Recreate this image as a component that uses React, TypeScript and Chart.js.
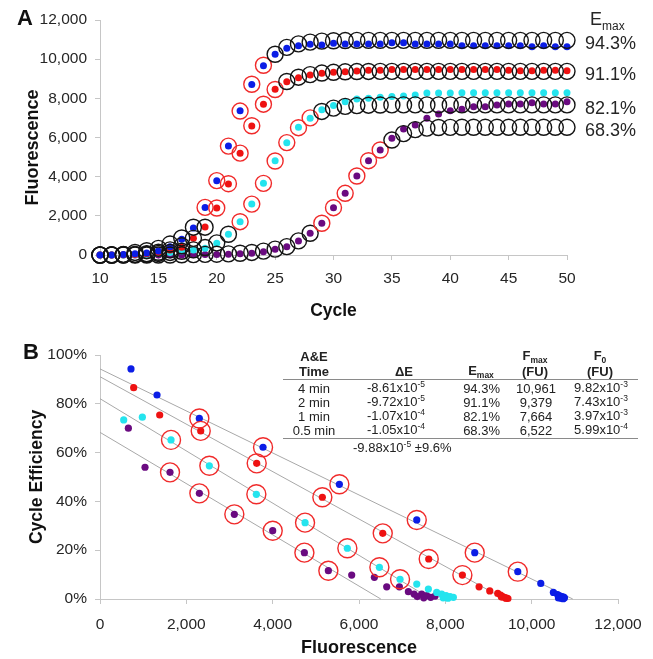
import React, { useEffect, useRef } from 'react';
import { Chart, registerables } from 'chart.js';

Chart.register(...registerables);

const FONT = "Arial, 'Liberation Sans', Helvetica, sans-serif";

// ---------- Panel A data (fluorescence per cycle) ----------
const cycles = [10, 11, 12, 13, 14, 15, 16, 17, 18, 19, 20, 21, 22, 23, 24, 25, 26, 27, 28, 29, 30,
  31, 32, 33, 34, 35, 36, 37, 38, 39, 40, 41, 42, 43, 44, 45, 46, 47, 48, 49, 50];

const blueData = [0, 0, 20, 60, 100, 200, 420, 800, 1380, 2430, 3790, 5560, 7370, 8710, 9670, 10250, 10560, 10690, 10760, 10720, 10810,
  10770, 10770, 10770, 10770, 10840, 10840, 10770, 10770, 10770, 10770, 10690, 10690, 10690, 10690, 10690, 10690, 10640, 10690, 10640, 10640];
const blueModel = [0, 10, 30, 130, 220, 340, 560, 870, 1420, 2430, 3800, 5560, 7350, 8720, 9690, 10250, 10600, 10780, 10870, 10920, 10940,
  10950, 10961, 10961, 10961, 10961, 10961, 10961, 10961, 10961, 10961, 10961, 10961, 10961, 10961, 10961, 10961, 10961, 10961, 10961, 10961];

const redData = [0, 0, 10, 30, 60, 130, 250, 400, 850, 1430, 2400, 3630, 5190, 6590, 7700, 8460, 8850, 9050, 9190, 9280, 9330,
  9360, 9400, 9440, 9440, 9470, 9470, 9470, 9470, 9470, 9470, 9470, 9470, 9470, 9470, 9440, 9410, 9410, 9440, 9440, 9410];
const redModel = [0, 0, 10, 30, 70, 140, 260, 470, 850, 1420, 2400, 3640, 5200, 6600, 7700, 8450, 8860, 9080, 9210, 9290, 9330,
  9355, 9368, 9374, 9379, 9379, 9379, 9379, 9379, 9379, 9379, 9379, 9379, 9379, 9379, 9379, 9379, 9379, 9379, 9379, 9379];

const cyanData = [0, 0, 0, 10, 30, 80, 130, 200, 260, 340, 600, 1060, 1700, 2600, 3660, 4815, 5730, 6520, 6980, 7420, 7630,
  7830, 7970, 8000, 8050, 8090, 8120, 8170, 8270, 8270, 8270, 8290, 8290, 8290, 8290, 8290, 8290, 8290, 8290, 8290, 8290];
const cyanModel = [0, 0, 10, 20, 40, 80, 130, 190, 260, 380, 620, 1060, 1700, 2600, 3660, 4800, 5740, 6500, 7000, 7330, 7500,
  7590, 7630, 7650, 7658, 7664, 7664, 7664, 7664, 7664, 7664, 7664, 7664, 7664, 7664, 7664, 7664, 7664, 7664, 7664, 7664];

const purpleData = [0, 0, 0, 0, 0, 0, 0, 0, 10, 20, 30, 40, 60, 90, 170, 300, 424, 715, 1108, 1619, 2415,
  3150, 4034, 4815, 5361, 5960, 6430, 6640, 6980, 7200, 7370, 7440, 7570, 7570, 7660, 7710, 7710, 7780, 7710, 7710, 7830];
const purpleModel = [0, 0, 0, 0, 0, 0, 0, 10, 20, 30, 40, 60, 90, 130, 200, 300, 430, 720, 1110, 1620, 2415,
  3150, 4034, 4815, 5361, 5870, 6200, 6400, 6480, 6510, 6518, 6522, 6522, 6522, 6522, 6522, 6522, 6522, 6522, 6522, 6522];

// cycles whose model circle is drawn red (exponential phase)
const blueExpCycles = [19, 24];
const redExpCycles = [20, 25];
const cyanExpCycles = [22, 28];
const purpleExpCycles = [29, 34];

// ---------- Panel B data (cycle efficiency vs fluorescence) ----------
const blueF = [718, 1321, 2301, 3777, 5545, 7338, 8681, 9678, 10211, 10503, 10600, 10650, 10700, 10740, 10760, 10620, 10690, 10730];
const blueE = [94.3, 83.6, 74.0, 62.2, 47.0, 32.4, 19.0, 11.2, 6.4, 2.7, 1.8, 1.3, 1.0, 0.8, 0.5, 0.4, 0.2, 0.1];
const blueCircled = [2, 3, 4, 5, 6, 7];

const redF = [780, 1383, 2333, 3630, 5151, 6550, 7615, 8395, 8782, 9029, 9214, 9280, 9330, 9380, 9420, 9450, 9300, 9400];
const redE = [86.6, 75.4, 68.9, 55.6, 41.7, 26.9, 16.4, 9.8, 5.0, 3.3, 2.3, 1.6, 1.0, 0.6, 0.4, 0.2, 0.8, 0.3];
const redCircled = [2, 3, 4, 5, 6, 7];

const cyanF = [549, 981, 1645, 2533, 3622, 4750, 5730, 6472, 6951, 7338, 7607, 7800, 7915, 8017, 8109, 8186, 7950, 8060];
const cyanE = [73.4, 74.5, 65.2, 54.6, 42.9, 31.3, 20.8, 13.0, 8.1, 6.1, 4.1, 2.7, 2.0, 1.4, 1.0, 0.7, 0.5, 0.3];
const cyanCircled = [2, 3, 4, 5, 6, 7, 8];

const purpleF = [657, 1043, 1622, 2302, 3112, 4001, 4735, 5290, 5831, 6356, 6642, 6936, 7144, 7276, 7452, 7568, 7661, 7762, 7350, 7500];
const purpleE = [70.0, 54.0, 51.9, 43.3, 34.7, 28.0, 19.0, 11.6, 9.8, 8.9, 5.0, 5.0, 3.0, 2.0, 2.0, 1.4, 0.7, 1.2, 1.0, 0.5];
const purpleCircled = [2, 3, 4, 5, 6, 7];

// ---------- Table ----------
const aeTimes = ['4 min', '2 min', '1 min', '0.5 min'];
const dEMant = ['-8.61', '-9.72', '-1.07', '-1.05'];
const dEExp = ['-5', '-5', '-4', '-4'];
const eMaxPct = [94.3, 91.1, 82.1, 68.3];
const fMax = [10961, 9379, 7664, 6522];
const f0Mant = ['9.82', '7.43', '3.97', '5.99'];
const f0Exp = ['-3', '-3', '-3', '-4'];
const dEMeanMant = '-9.88';
const dEMeanExp = '-5';
const dEMeanSpread = '±9.6%';

const xTicksA = [10, 15, 20, 25, 30, 35, 40, 45, 50];

// ---------- Styles ----------
const BLUE = '#0b1de6';
const RED = '#ee1212';
const CYAN = '#24e4ee';
const PURPLE = '#6a0a80';
const RING_RED = '#f02a2a';
const RING_BLACK = '#141414';
const AXIS = '#c6c6c6';
const TXT = '#262626';
const FIT_LINE = '#a8a8a8';

const fmt = (v: number) => v.toLocaleString('en-US');

function App() {
  const aRef = useRef<HTMLCanvasElement>(null);
  const bRef = useRef<HTMLCanvasElement>(null);

  useEffect(() => {
    Chart.defaults.font.family = FONT;

    const pts = (vals: number[]) => vals.map((v, i) => ({ x: cycles[i], y: v }));
    const ringColors = (r: number[]) => cycles.map((c) => (c >= r[0] && c <= r[1] ? RING_RED : RING_BLACK));

    const seriesA = [
      { data: blueData, model: blueModel, exp: blueExpCycles, color: BLUE },
      { data: redData, model: redModel, exp: redExpCycles, color: RED },
      { data: cyanData, model: cyanModel, exp: cyanExpCycles, color: CYAN },
      { data: purpleData, model: purpleModel, exp: purpleExpCycles, color: PURPLE },
    ];

    const dsA: any[] = [];
    seriesA.forEach((s) => {
      dsA.push({
        type: 'scatter', data: pts(s.data), pointRadius: 3.5, pointHoverRadius: 3.5,
        pointBackgroundColor: s.color, pointBorderWidth: 0, showLine: false, clip: false, order: 2,
      });
      dsA.push({
        type: 'scatter', data: pts(s.model), pointRadius: 8, pointHoverRadius: 8,
        pointBackgroundColor: 'rgba(0,0,0,0)', pointBorderColor: ringColors(s.exp), pointBorderWidth: 1.4,
        showLine: false, clip: false, order: 1,
      });
    });

    const annotA = {
      id: 'annotA',
      afterDraw(chart: any) {
        const ctx = chart.ctx;
        const y = chart.scales.y;
        ctx.save();
        ctx.fillStyle = '#111';
        ctx.font = `bold 22px ${FONT}`;
        ctx.textAlign = 'center';
        ctx.textBaseline = 'middle';
        ctx.fillText('A', 25, 19);
        ctx.fillStyle = TXT;
        ctx.textAlign = 'left';
        ctx.font = `18px ${FONT}`;
        ctx.fillText('E', 590, 20);
        ctx.font = `12px ${FONT}`;
        ctx.fillText('max', 602, 27);
        ctx.font = `18px ${FONT}`;
        fMax.forEach((f, i) => {
          ctx.fillText(`${eMaxPct[i].toFixed(1)}%`, 585, y.getPixelForValue(f) + 4);
        });
        ctx.restore();
      },
    };

    const chartA = new Chart(aRef.current as HTMLCanvasElement, {
      type: 'scatter',
      data: { datasets: dsA },
      options: {
        animation: false,
        responsive: false,
        maintainAspectRatio: false,
        events: [],
        layout: { padding: { left: 0, right: 86, top: 20, bottom: 0 } },
        plugins: { legend: { display: false }, tooltip: { enabled: false } },
        scales: {
          x: {
            type: 'linear', min: 10, max: 50,
            afterFit: (s: any) => { s.height = 75; },
            afterBuildTicks: (s: any) => { s.ticks = xTicksA.map((v) => ({ value: v })); },
            ticks: { font: { size: 15.5 }, color: TXT, padding: 9, maxRotation: 0 },
            grid: { display: true, drawOnChartArea: false, drawTicks: true, tickLength: 5, color: AXIS },
            border: { display: true, color: AXIS, width: 1 },
            title: { display: true, text: 'Cycle', font: { size: 17.5, weight: 'bold' }, color: '#111', padding: { top: 0, bottom: 8 } },
          },
          y: {
            type: 'linear', min: 0, max: 12000,
            afterFit: (s: any) => { s.width = 100; },
            ticks: { stepSize: 2000, font: { size: 15.5 }, color: TXT, padding: 8, callback: (v: any) => fmt(Number(v)) },
            grid: { display: true, drawOnChartArea: false, drawTicks: true, tickLength: 5, color: AXIS },
            border: { display: true, color: AXIS, width: 1 },
            title: { display: true, text: 'Fluorescence    ', font: { size: 18, weight: 'bold' }, color: '#111', padding: { top: 22, bottom: 0 } },
          },
        },
      } as any,
      plugins: [annotA],
    });

    // ---------- Panel B ----------
    const seriesB = [
      { f: blueF, e: blueE, c: blueCircled, color: BLUE },
      { f: redF, e: redE, c: redCircled, color: RED },
      { f: cyanF, e: cyanE, c: cyanCircled, color: CYAN },
      { f: purpleF, e: purpleE, c: purpleCircled, color: PURPLE },
    ];
    const dsB: any[] = [];
    eMaxPct.forEach((em, i) => {
      const dE = Number(dEMant[i]) * Math.pow(10, Number(dEExp[i])) * 100; // % per FU
      dsB.push({
        type: 'scatter', data: [{ x: 0, y: em }, { x: em / -dE, y: 0 }], showLine: true,
        borderColor: FIT_LINE, borderWidth: 1, pointRadius: 0, clip: false, order: 3,
      });
    });
    seriesB.forEach((s) => {
      dsB.push({
        type: 'scatter', data: s.f.map((f, i) => ({ x: f, y: s.e[i] })), pointRadius: 3.6, pointHoverRadius: 3.6,
        pointBackgroundColor: s.color, pointBorderWidth: 0, clip: false, order: 2,
      });
      dsB.push({
        type: 'scatter', data: s.c.map((i) => ({ x: s.f[i], y: s.e[i] })), pointRadius: 9.5, pointHoverRadius: 9.5,
        pointBackgroundColor: 'rgba(0,0,0,0)', pointBorderColor: RING_RED, pointBorderWidth: 1.4, clip: false, order: 1,
      });
    });

    const annotB = {
      id: 'annotB',
      afterDraw(chart: any) {
        const ctx = chart.ctx;
        ctx.save();
        ctx.fillStyle = '#111';
        ctx.font = `bold 22px ${FONT}`;
        ctx.textAlign = 'center';
        ctx.textBaseline = 'middle';
        ctx.fillText('B', 31, 23);
        ctx.restore();
      },
    };

    const chartB = new Chart(bRef.current as HTMLCanvasElement, {
      type: 'scatter',
      data: { datasets: dsB },
      options: {
        animation: false,
        responsive: false,
        maintainAspectRatio: false,
        events: [],
        layout: { padding: { left: 0, right: 35, top: 25, bottom: 0 } },
        plugins: { legend: { display: false }, tooltip: { enabled: false } },
        scales: {
          x: {
            type: 'linear', min: 0, max: 12000,
            afterFit: (s: any) => { s.height = 60; },
            ticks: { stepSize: 2000, font: { size: 15.5 }, color: TXT, padding: 11, maxRotation: 0, callback: (v: any) => fmt(Number(v)) },
            grid: { display: true, drawOnChartArea: false, drawTicks: true, tickLength: 5, color: AXIS },
            border: { display: true, color: AXIS, width: 1 },
            title: { display: true, text: 'Fluorescence', font: { size: 18, weight: 'bold' }, color: '#111', padding: { top: 0, bottom: 0 } },
          },
          y: {
            type: 'linear', min: 0, max: 100,
            afterFit: (s: any) => { s.width = 100; },
            ticks: { stepSize: 20, font: { size: 15.5 }, color: TXT, padding: 8, callback: (v: any) => `${v}%` },
            grid: { display: true, drawOnChartArea: false, drawTicks: true, tickLength: 5, color: AXIS },
            border: { display: true, color: AXIS, width: 1 },
            title: { display: true, text: 'Cycle Efficiency', font: { size: 17.5, weight: 'bold' }, color: '#111', padding: { top: 27, bottom: 0 } },
          },
        },
      } as any,
      plugins: [annotB],
    });

    return () => { chartA.destroy(); chartB.destroy(); };
  }, []);

  const cell = (x: number, y: number, content: any, align: 'center' | 'left' | 'right' = 'center', bold = false) => (
    <div style={{
      position: 'absolute', left: x, top: y,
      transform: `translate(${align === 'center' ? '-50%' : align === 'right' ? '-100%' : '0'}, -50%)`,
      whiteSpace: 'nowrap', fontSize: 13, lineHeight: '15px', fontWeight: bold ? 'bold' : 'normal', color: '#222',
    }}>{content}</div>
  );
  const sup = (t: string) => <span style={{ fontSize: 8.5, position: 'relative', top: -5 }}>{t}</span>;
  const sub = (t: string) => <span style={{ fontSize: 8.5, position: 'relative', top: 3 }}>{t}</span>;
  const rowY = [388, 402, 416, 430];

  return (
    <div style={{ position: 'absolute', left: 0, top: 0, width: 653, height: 659, overflow: 'hidden', background: '#fff', fontFamily: FONT }}>
      <canvas ref={aRef} width={653} height={330} style={{ position: 'absolute', left: 0, top: 0 }} />
      <canvas ref={bRef} width={653} height={329} style={{ position: 'absolute', left: 0, top: 330 }} />
      <div style={{ position: 'absolute', left: 0, top: 0, width: 653, height: 659, pointerEvents: 'none' }}>
        {cell(314, 356, 'A&E', 'center', true)}
        {cell(314, 371, 'Time', 'center', true)}
        {cell(404, 371, 'ΔE', 'center', true)}
        {cell(481, 371, <span>E{sub('max')}</span>, 'center', true)}
        {cell(535, 356, <span>F{sub('max')}</span>, 'center', true)}
        {cell(535, 371, '(FU)', 'center', true)}
        {cell(600, 356, <span>F{sub('0')}</span>, 'center', true)}
        {cell(600, 371, '(FU)', 'center', true)}
        <div style={{ position: 'absolute', left: 283, top: 379, width: 355, height: 1, background: '#8a8a8a' }} />
        {aeTimes.map((t, i) => (
          <React.Fragment key={t}>
            {cell(314, rowY[i], t)}
            {cell(396, rowY[i], <span>{dEMant[i]}x10{sup(dEExp[i])}</span>)}
            {cell(500, rowY[i], `${eMaxPct[i].toFixed(1)}%`, 'right')}
            {cell(536, rowY[i], fmt(fMax[i]))}
            {cell(601, rowY[i], <span>{f0Mant[i]}x10{sup(f0Exp[i])}</span>)}
          </React.Fragment>
        ))}
        <div style={{ position: 'absolute', left: 283, top: 438, width: 355, height: 1, background: '#8a8a8a' }} />
        {cell(353, 448, <span>{dEMeanMant}x10{sup(dEMeanExp)} {dEMeanSpread}</span>, 'left')}
      </div>
    </div>
  );
}

export default App;
